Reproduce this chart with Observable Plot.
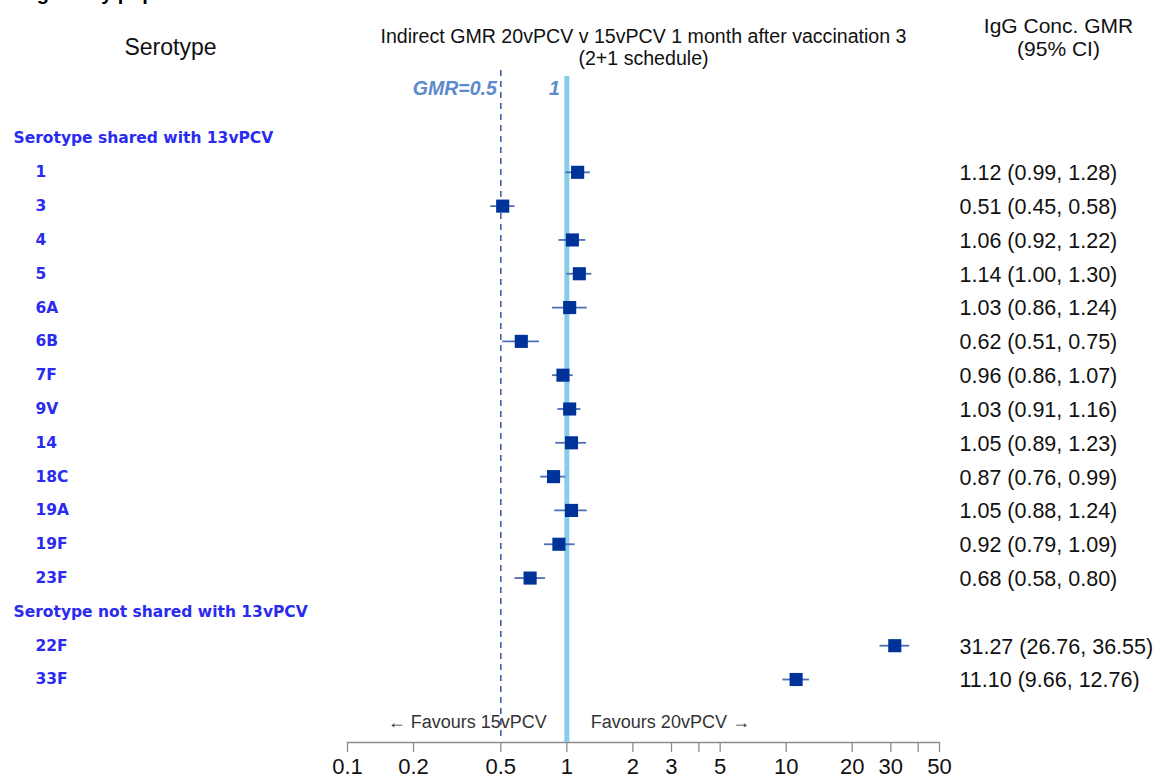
<!DOCTYPE html>
<html>
<head>
<meta charset="utf-8">
<script src="https://cdn.jsdelivr.net/npm/d3@7"></script>
<script src="https://cdn.jsdelivr.net/npm/@observablehq/plot@0.6"></script>
<style>
  html, body { margin: 0; padding: 0; background: #fff; overflow: hidden; }
  #wrap { position: relative; width: 1158px; height: 778px; overflow: hidden; }
  #cut-title { position: absolute; top: -17px; left: -140px; font: bold 20px "Liberation Sans", Arial, sans-serif; color: #000; white-space: nowrap; line-height: 20px; }
  svg { display: block; }
</style>
</head>
<body>
<div id="wrap">
  <div id="cut-title">Evaluable immunogenicity population</div>
  <div id="chart"></div>
</div>
<script>
// ---------- data ----------
const groups = ["Serotype shared with 13vPCV", "Serotype not shared with 13vPCV"];
const serotypes = ["1", "3", "4", "5", "6A", "6B", "7F", "9V", "14", "18C", "19A", "19F", "23F", "22F", "33F"];
const serotypeGroup = [0, 0, 0, 0, 0, 0, 0, 0, 0, 0, 0, 0, 0, 1, 1];
const gmr   = [1.12, 0.51, 1.06, 1.14, 1.03, 0.62, 0.96, 1.03, 1.05, 0.87, 1.05, 0.92, 0.68, 31.27, 11.10];
const lower = [0.99, 0.45, 0.92, 1.00, 0.86, 0.51, 0.86, 0.91, 0.89, 0.76, 0.88, 0.79, 0.58, 26.76, 9.66];
const upper = [1.28, 0.58, 1.22, 1.30, 1.24, 0.75, 1.07, 1.16, 1.23, 0.99, 1.24, 1.09, 0.80, 36.55, 12.76];
const tickValues = [0.1, 0.2, 0.5, 1, 2, 3, 4, 5, 10, 20, 30, 40, 50];
const tickLabels = ["0.1", "0.2", "0.5", "1", "2", "3", "", "5", "10", "20", "30", "", "50"];
const refLines = [0.5, 1];
const refLabels = ["GMR=0.5", "1"];
const favourLabels = ["\u2190 Favours 15vPCV", "Favours 20vPCV \u2192"];
const headerSerotype = "Serotype";
const headerPlot = ["Indirect GMR 20vPCV v 15vPCV 1 month after vaccination 3", "(2+1 schedule)"];
const headerValues = ["IgG Conc. GMR", "(95% CI)"];

// ---------- tables ----------
const rows = serotypes.map((s, i) => ({
  serotype: s, group: groups[serotypeGroup[i]], gmr: gmr[i], lo: lower[i], hi: upper[i]
}));
const rowOrder = [];
groups.forEach(g => {
  rowOrder.push(g);
  rows.filter(r => r.group === g).forEach(r => rowOrder.push(r.serotype));
});
const f2 = d3.format(".2f");
const ticks = tickValues.map((v, i) => ({ v, label: tickLabels[i] }));

const W = 1158, H = 778;
const mL = 347, mR = 219, mT = 70, mB = 36;
const frameH = H - mT - mB;
const FONT = "Liberation Sans, Arial, Helvetica, sans-serif";
const LABELFONT = "DejaVu Sans, Verdana, sans-serif";
const labelBlue = "#2b2bf0";
const refBlue = "#5b8bcb";
const xRight = W - mR;
const mid = { lineAnchor: "middle" };

const chart = Plot.plot({
  width: W, height: H,
  marginLeft: mL, marginRight: mR, marginTop: mT, marginBottom: mB,
  style: { fontFamily: FONT, background: "#fff", color: "#000", overflow: "visible" },
  x: { type: "log", domain: [0.1, 50], axis: null },
  y: { type: "point", domain: rowOrder, range: [138, 679], padding: 0, round: false, axis: null },
  marks: [
    // axis baseline, ticks and labels
    Plot.frame({ anchor: "bottom", stroke: "#8c8c8c", strokeWidth: 1.3 }),
    Plot.tickX(ticks, { x: "v", stroke: "#8c8c8c", strokeWidth: 1.3, insetTop: frameH, insetBottom: -10 }),
    Plot.text(ticks, { ...mid, x: "v", text: "label", frameAnchor: "bottom", dy: 24, fontSize: 22, fill: "#111" }),
    // reference lines
    Plot.ruleX([refLines[1]], { x: d => d, stroke: "#87cdea", strokeWidth: 5, insetTop: 6 }),
    Plot.ruleX([refLines[0]], { x: d => d, stroke: "#3e64a4", strokeWidth: 1.6, strokeDasharray: "6,5", insetBottom: 2 }),
    Plot.text([refLines[0]], { ...mid, x: d => d, text: () => refLabels[0], frameAnchor: "top", dy: 18, dx: -4,
                     textAnchor: "end", fill: refBlue, fontWeight: "bold", fontStyle: "italic", fontSize: 19.5 }),
    Plot.text([refLines[1]], { ...mid, x: d => d, text: () => refLabels[1], frameAnchor: "top", dy: 18, dx: -7,
                     textAnchor: "end", fill: refBlue, fontWeight: "bold", fontStyle: "italic", fontSize: 19.5 }),
    // favours
    Plot.text([refLines[1]], { ...mid, x: d => d, text: () => favourLabels[0], frameAnchor: "bottom", dy: -20, dx: -20,
                     textAnchor: "end", fill: "#333", fontSize: 18 }),
    Plot.text([refLines[1]], { ...mid, x: d => d, text: () => favourLabels[1], frameAnchor: "bottom", dy: -20, dx: 24,
                     textAnchor: "start", fill: "#333", fontSize: 18 }),
    // CI whiskers and markers
    Plot.ruleY(rows, { y: "serotype", x1: "lo", x2: "hi", stroke: "#4d6fb8", strokeWidth: 1.8 }),
    Plot.dot(rows, { y: "serotype", x: "gmr", symbol: "square", r: 7.4, fill: "#003399", stroke: null }),
    // left labels
    Plot.text(groups, { ...mid, y: d => d, text: d => d, frameAnchor: "left", dx: 13 - mL, textAnchor: "start",
                        fill: labelBlue, fontWeight: "bold", fontSize: 15.5, fontFamily: LABELFONT }),
    Plot.text(rows, { ...mid, y: "serotype", text: "serotype", frameAnchor: "left", dx: 35 - mL, textAnchor: "start",
                      fill: labelBlue, fontWeight: "bold", fontSize: 15.5, fontFamily: LABELFONT }),
    // right value column
    Plot.text(rows, { ...mid, y: "serotype", text: d => `${f2(d.gmr)} (${f2(d.lo)}, ${f2(d.hi)})`, frameAnchor: "right",
                      dx: 959 - xRight, dy: 1, textAnchor: "start", fill: "#111", fontSize: 21.5 }),
    // headers
    Plot.text([headerSerotype], { ...mid, text: d => d, frameAnchor: "top-left", dx: 170 - mL, dy: 47 - mT,
                                  textAnchor: "middle", fill: "#111", fontSize: 23 }),
    Plot.text([headerPlot[0]], { ...mid, text: d => d, frameAnchor: "top", dy: 36 - mT, textAnchor: "middle",
                                 fill: "#111", fontSize: 19.6 }),
    Plot.text([headerPlot[1]], { ...mid, text: d => d, frameAnchor: "top", dy: 58 - mT, textAnchor: "middle",
                                 fill: "#111", fontSize: 19.6 }),
    Plot.text([headerValues[0]], { ...mid, text: d => d, frameAnchor: "top-right", dx: 1058 - xRight, dy: 26 - mT,
                                   textAnchor: "middle", fill: "#111", fontSize: 21 }),
    Plot.text([headerValues[1]], { ...mid, text: d => d, frameAnchor: "top-right", dx: 1058 - xRight, dy: 49 - mT,
                                   textAnchor: "middle", fill: "#111", fontSize: 21 })
  ]
});

document.getElementById("chart").appendChild(chart);
</script>
</body>
</html>
